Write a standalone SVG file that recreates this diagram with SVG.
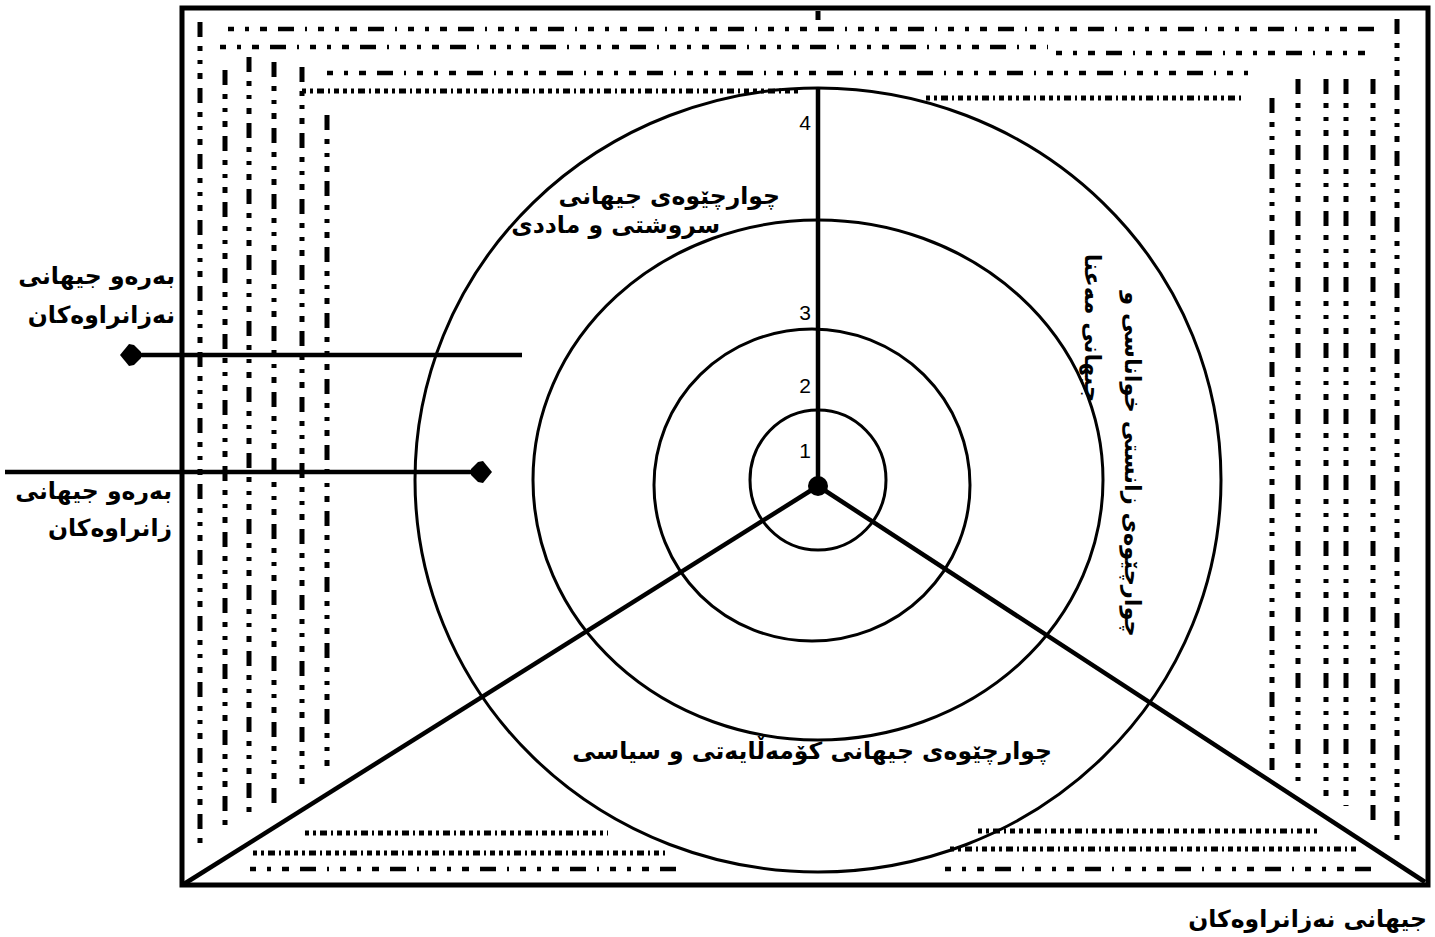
<svg xmlns="http://www.w3.org/2000/svg" width="1435" height="937" viewBox="0 0 1435 937">
<style>
.frame{fill:none;stroke:#000;stroke-width:5}
.ring{fill:none;stroke:#000;stroke-width:3}
.spoke{stroke:#000;stroke-width:4.5;fill:none}
.arrow{stroke:#000;stroke-width:4.5;fill:none}
.dh{stroke:#000;stroke-width:4.5;fill:none;stroke-dasharray:6 11 4 11 7 11 16 11 2 11}
.dd{stroke:#000;stroke-width:5;fill:none;stroke-dasharray:4 4 3 4 7 4 2 4 5 4}
.dv{stroke:#000;stroke-width:5;fill:none;stroke-dasharray:15 9 5 9 4 9 6 9}
.lbl{font-family:"DejaVu Sans",sans-serif;font-weight:bold;font-size:23.5px;fill:#000}
.vert{font-size:22.5px}
.num{font-family:"Liberation Sans",Arial,sans-serif;font-size:21px;fill:#000}
</style>
<defs>
<marker id="head" markerUnits="userSpaceOnUse" markerWidth="40" markerHeight="40" viewBox="-30 -20 40 40" refX="-8" refY="0" orient="auto">
<path d="M0,0 L-9,-11 L-14,-10 L-21,-3 L-21,3 L-14,10 L-9,11 Z" fill="#000"/>
</marker>
</defs>
<rect width="1435" height="937" fill="#fff"/>
<g id="frame"><rect class="frame" x="182" y="8" width="1246" height="877"/></g>
<g id="borders">
<line class="dv" x1="200" y1="22" x2="200" y2="850"/>
<line class="dv" x1="225" y1="70" x2="225" y2="827"/>
<line class="dv" x1="249" y1="57" x2="249" y2="813"/>
<line class="dv" x1="274" y1="62" x2="274" y2="810"/>
<line class="dv" x1="302" y1="67" x2="302" y2="790"/>
<line class="dv" x1="327" y1="115" x2="327" y2="775"/>
<line class="dv" x1="1272" y1="98" x2="1272" y2="770"/>
<line class="dv" x1="1298" y1="79" x2="1298" y2="790"/>
<line class="dv" x1="1326" y1="79" x2="1326" y2="802"/>
<line class="dv" x1="1346" y1="79" x2="1346" y2="806"/>
<line class="dv" x1="1373" y1="79" x2="1373" y2="823"/>
<line class="dv" x1="1397" y1="19" x2="1397" y2="847"/>
<line class="dv" x1="818" y1="11" x2="818" y2="20"/>
<line class="dh" x1="228" y1="29" x2="1376" y2="29"/>
<line class="dh" x1="220" y1="47" x2="1048" y2="47"/>
<line class="dh" x1="1056" y1="53" x2="1376" y2="53"/>
<line class="dh" x1="327" y1="73" x2="1250" y2="73"/>
<line class="dd" x1="302" y1="91" x2="800" y2="91"/>
<line class="dd" x1="926" y1="98" x2="1244" y2="98"/>
<line class="dd" x1="305" y1="833" x2="608" y2="833"/>
<line class="dd" x1="253" y1="853" x2="665" y2="853"/>
<line class="dh" x1="250" y1="869" x2="680" y2="869"/>
<line class="dd" x1="978" y1="831" x2="1320" y2="831"/>
<line class="dd" x1="950" y1="849" x2="1360" y2="849"/>
<line class="dh" x1="945" y1="869" x2="1375" y2="869"/>
</g>
<g id="rings">
<ellipse class="ring" cx="818" cy="480" rx="403" ry="392"/>
<ellipse class="ring" cx="818" cy="480" rx="285" ry="260"/>
<ellipse class="ring" cx="812" cy="485" rx="158" ry="156"/>
<ellipse class="ring" cx="818" cy="480" rx="68" ry="70"/>
</g>
<g id="connectors">
<line class="spoke" x1="818" y1="88" x2="818" y2="486"/>
<line class="spoke" x1="818" y1="486" x2="184" y2="884"/>
<line class="spoke" x1="818" y1="486" x2="1425" y2="882"/>
<line class="arrow" x1="522" y1="355" x2="128" y2="355" marker-end="url(#head)"/>
<line class="arrow" x1="5" y1="472" x2="484" y2="472" marker-end="url(#head)"/>
</g>
<g id="center"><circle cx="818" cy="486" r="10" fill="#000"/></g>
<g id="numbers">
<text class="num" x="811" y="130" text-anchor="end">4</text>
<text class="num" x="811" y="320" text-anchor="end">3</text>
<text class="num" x="811" y="393" text-anchor="end">2</text>
<text class="num" x="811" y="458" text-anchor="end">1</text>
</g>
<g id="label-unknown-arrow">
<text class="lbl" x="175" y="284" text-anchor="end">بەرەو جیهانی</text>
<text class="lbl" x="175" y="323" text-anchor="end">نەزانراوەکان</text>
</g>
<g id="label-known-arrow">
<text class="lbl" x="172" y="499" text-anchor="end">بەرەو جیهانی</text>
<text class="lbl" x="172" y="536" text-anchor="end">زانراوەکان</text>
</g>
<g id="label-natural">
<text class="lbl" x="780" y="204" text-anchor="end">چوارچێوەی جیهانی</text>
<text class="lbl" x="720" y="233" text-anchor="end">سروشتی و ماددی</text>
</g>
<g id="label-spiritual">
<text class="lbl vert" transform="translate(1125,464) rotate(90)" text-anchor="middle">چوارچێوەی زانستی خواناسی و</text>
<text class="lbl vert" transform="translate(1085,328) rotate(90)" text-anchor="middle">جیهانی مەعنا</text>
</g>
<g id="label-social">
<text class="lbl" x="1052" y="759" text-anchor="end">چوارچێوەی جیهانی کۆمەڵایەتی و سیاسی</text>
</g>
<g id="label-unknown-world">
<text class="lbl" x="1427" y="927" text-anchor="end">جیهانی نەزانراوەکان</text>
</g>
</svg>
